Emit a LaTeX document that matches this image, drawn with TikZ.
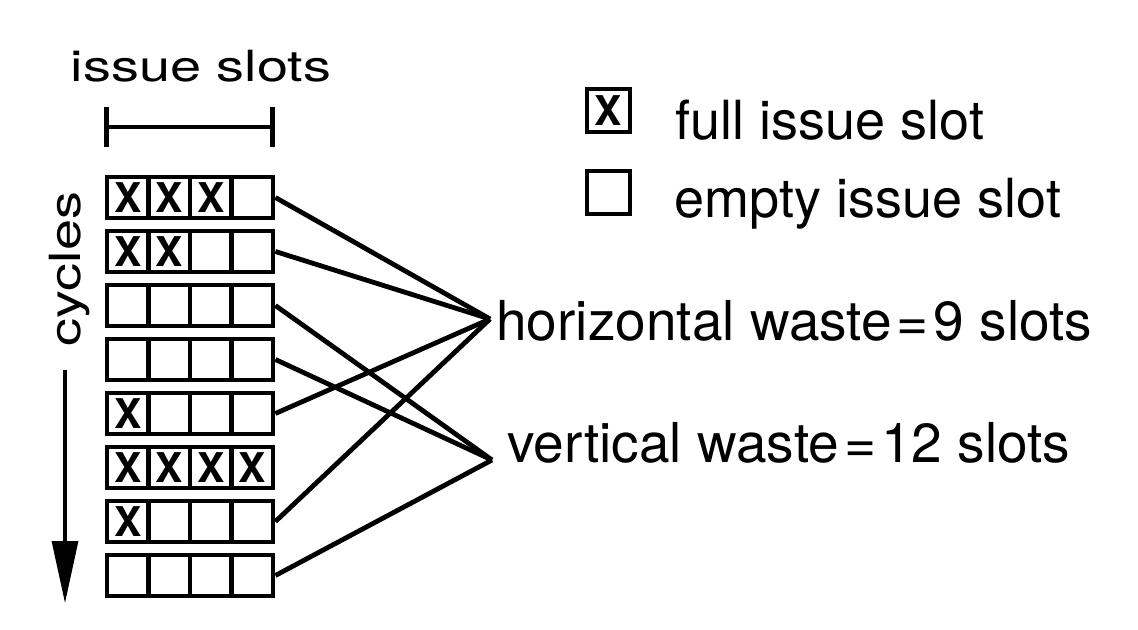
\documentclass[tikz,border=0pt]{standalone}
\usepackage{fontspec}
\setmainfont{TeX Gyre Heros}
\newfontfamily\widefont[FakeStretch=1.3]{TeX Gyre Heros}
\usetikzlibrary{arrows.meta}

\begin{document}
\begin{tikzpicture}
[x=0.5pt,y=-0.5pt,line width=2.4pt,%
  slot/.style={draw,line width=2.4pt,minimum width=20.75pt,minimum height=20.5pt,%
    inner sep=0pt,font=\fontsize{20.5}{20}\selectfont\bfseries},%
  legendbox/.style={slot,minimum width=21.5pt,minimum height=21.5pt},%
  bigtext/.style={inner sep=0pt,font=\fontsize{27.5}{30}\selectfont},%
  legendtext/.style={inner sep=0pt,font=\fontsize{27}{30}\selectfont},%
  widetext/.style={inner sep=0pt,font=\widefont\fontsize{21.5}{24}\selectfont},%
  wire/.style={line width=2.4pt}]
\useasboundingbox (0,0) rectangle (1138,630);
% issue slot grid, one row per cycle
\foreach \r/\n in {1/3,2/2,3/0,4/0,5/1,6/4,7/1,8/0}
  \foreach \c in {1,...,4}
    \node[slot] (c\r\c) at ({127.75+41.5*(\c-1)},{197.5+54*(\r-1)})
      {\ifnum\c>\n\else X\fi};
% axes
\node[widetext,anchor=base] (issue) at (201,82) {issue slots};
\coordinate (slotsl) at (104,127);
\coordinate (slotsr) at (275,127);
\draw[{Bar[width=20pt]}-{Bar[width=20pt]}] (slotsl) -- (slotsr);
\node[widetext,rotate=90,anchor=base] (cycles) at (80,269) {cycles};
\coordinate (cyctop) at (65,370);
\coordinate (cycbot) at (65,603);
\draw[line width=1.6pt,-{Triangle[length=31pt,width=13pt]}] (cyctop) -- (cycbot);
% legend
\node[legendbox] (full) at (608.5,110.5) {X};
\node[legendbox] (empty) at (608.5,192.5) {};
\node[legendtext,anchor=base west] (fulltext) at (673,140) {full issue slot};
\node[legendtext,anchor=base west] (emptytext) at (672,218) {empty issue slot};
% waste
\coordinate (hw) at (490,319);
\coordinate (vw) at (492,460);
\node[bigtext,anchor=base west] (hwaste) at (494,340) {horizontal waste\kern2.5pt=\kern2.5pt9 slots};
\node[bigtext,anchor=base west] (vwaste) at (505,462) {vertical waste\kern2.5pt=\kern2.5pt12 slots};
\foreach \r in {1,2,5,7}
  \draw[wire] (c\r4.east) -- (hw);
\foreach \r in {3,4,8}
  \draw[wire] (c\r4.east) -- (vw);
\end{tikzpicture}
\end{document}
